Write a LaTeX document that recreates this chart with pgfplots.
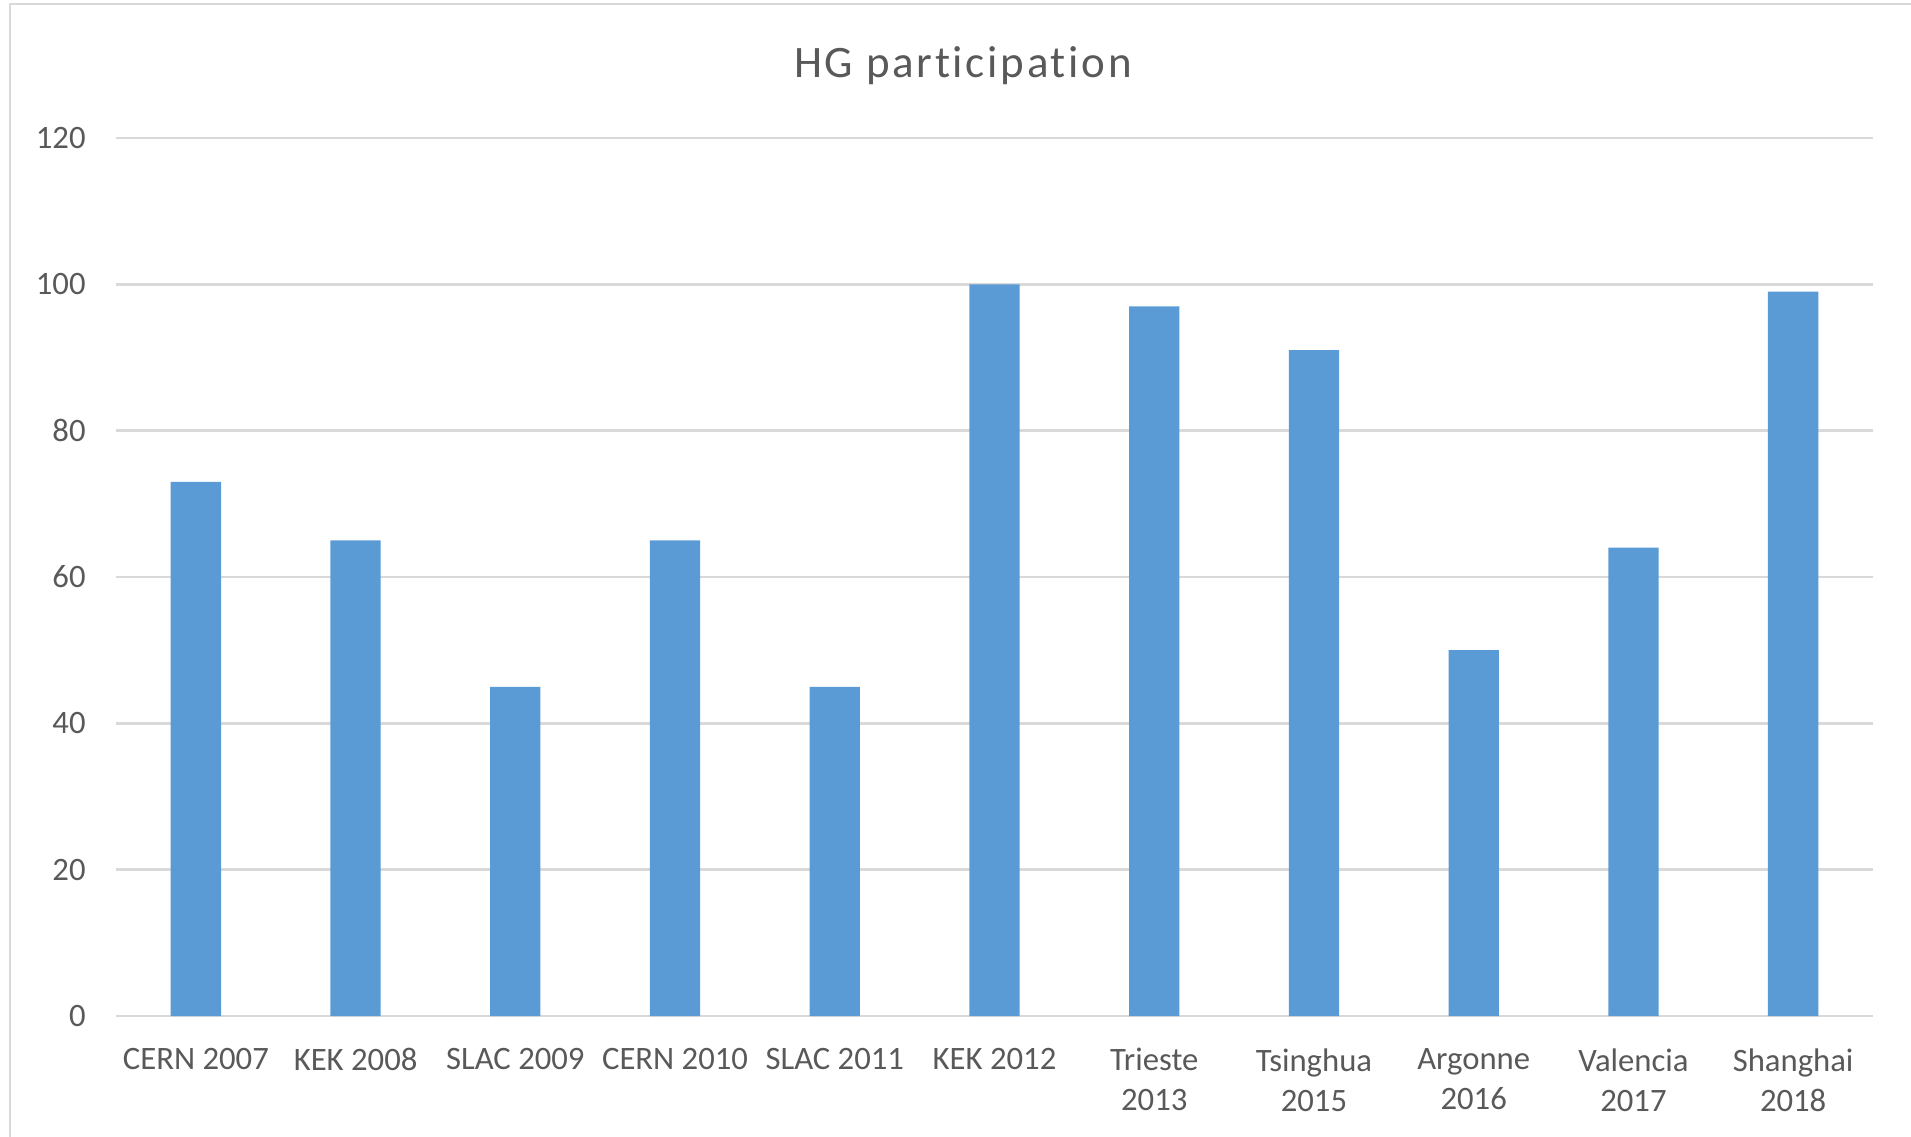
\documentclass[border=0pt]{standalone}
\usepackage{fontspec}
\setmainfont{Carlito}[Ligatures=NoCommon]
\usepackage{pgfplots}
\pgfplotsset{compat=1.18}
\definecolor{barblue}{HTML}{5B9BD5}
\definecolor{gridc}{HTML}{D9D9D9}
\definecolor{txt}{HTML}{595959}
\begin{document}
\begin{tikzpicture}
\path[use as bounding box] (-11.6mm,-12.0mm) rectangle (179.5mm,101.6mm);
\draw[gridc, line width=0.85pt] (-10.6mm,-13mm) -- (-10.6mm,101.2mm) -- (181mm,101.2mm);
\begin{axis}[
  at={(0,0)}, anchor=south west,
  scale only axis, width=175.7mm, height=87.8mm,
  xmin=-0.5, xmax=10.5, ymin=0, ymax=120,
  ytick={0,20,...,120},
  xtick=data,
  xticklabels={CERN 2007, KEK 2008, SLAC 2009, CERN 2010, SLAC 2011, KEK 2012, Trieste\\2013, Tsinghua\\2015, Argonne\\2016, Valencia\\2017, Shanghai\\2018},
  ymajorgrids, grid style={gridc, line width=0.75pt},
  axis line style={draw=none},
  major tick length=0, tick style={draw=none},
  /pgf/number format/assume math mode=true,
  yticklabel style={font=\fontsize{9.3}{11.4}\selectfont, text=txt, anchor=east, xshift=-1.8mm},
  xticklabel style={font=\fontsize{9.3}{11.4}\selectfont, text=txt, anchor=north, align=center, yshift=-2mm},
  ybar, bar width=0.315,
]
\addplot[fill=barblue, draw=none] coordinates {
(0,73) (1,65) (2,45) (3,65) (4,45) (5,100) (6,97) (7,91) (8,50) (9,64) (10,99)
};
\end{axis}
\node[anchor=base, font=\fontsize{12.8}{14}\selectfont\addfontfeatures{LetterSpace=6}, text=txt] at (84.7mm,93.9mm) {HG participation};
\end{tikzpicture}
\end{document}
